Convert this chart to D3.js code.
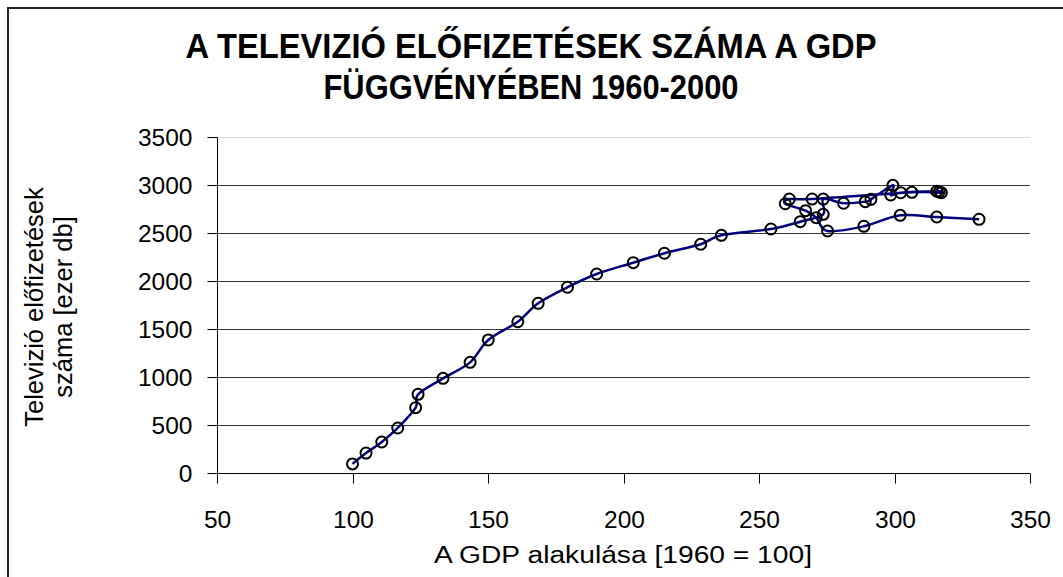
<!DOCTYPE html>
<html><head><meta charset="utf-8">
<script src="https://cdn.jsdelivr.net/npm/d3@7"></script>
<style>body{margin:0;background:#fff} svg{display:block} text{font-family:"Liberation Sans",Arial,sans-serif;fill:#000}</style>
</head><body><svg id="c" width="1063" height="577"></svg>
<script>
// GDP index (1960 = 100), 1960..2000
const gdp = [100, 105, 110.8, 116.7, 123.3, 124.2, 133.4, 143.4, 150.1, 161, 168.5, 179.3, 190.1, 203.6, 215.1, 228.5, 236.1,
  254.4, 265.2, 273.7, 273.7, 281.2, 289.2, 291.3, 299.4, 298.6, 302.3, 315.6, 316.5, 317.3, 306.4,
  269.6, 261.2, 259.7, 267.2, 271.1, 275.3, 288.7, 302.1, 315.6, 331.2];
// TV subscriptions [thousand], 1960..2000
const tv = [100, 213, 328, 474, 686, 825, 991, 1158, 1391, 1581, 1773, 1940, 2078, 2196, 2294, 2388, 2481,
  2547, 2623, 2700, 2859, 2815, 2832, 2856, 3002, 2901, 2925, 2940, 2933, 2925, 2929,
  2859, 2859, 2810, 2738, 2665, 2526, 2575, 2689, 2672, 2648];
const xTicks = [50, 100, 150, 200, 250, 300, 350];
const yTicks = [0, 500, 1000, 1500, 2000, 2500, 3000, 3500];
const titleLines = ["A TELEVIZIÓ ELŐFIZETÉSEK SZÁMA A GDP", "FÜGGVÉNYÉBEN 1960-2000"];
const xTitle = "A GDP alakulása [1960 = 100]";
const yTitleLines = ["Televizió előfizetések", "száma [ezer db]"];

const svg = d3.select("#c");
const x = d3.scaleLinear().domain([50, 350]).range([217, 1030]);
const y = d3.scaleLinear().domain([0, 3500]).range([473.5, 137.5]);

// outer chart border
svg.append("rect").attr("x", 8).attr("y", 8).attr("width", 1100).attr("height", 620)
  .attr("fill", "none").attr("stroke", "#222").attr("stroke-width", 2);

// gridlines
const grid = svg.append("g").attr("transform", "translate(217,0)")
  .call(d3.axisLeft(y).tickValues(yTicks.filter(t => t > 0)).tickSize(-(1030 - 217)).tickFormat(""));
grid.select(".domain").remove();
grid.selectAll(".tick").attr("transform", d => `translate(0,${Math.floor(y(d)) + 0.5})`);
grid.selectAll(".tick line").attr("stroke", d => d === 3500 ? "#dcdcdc" : "#333").attr("stroke-width", 1);

// y axis
const yAx = svg.append("g").attr("transform", "translate(217.5,0)")
  .call(d3.axisLeft(y).tickValues(yTicks).tickSize(10).tickPadding(15).tickFormat(d3.format("d")));
yAx.select(".domain").attr("stroke", "#000").attr("d", `M0,${y(3500)}V483`);
yAx.selectAll(".tick").attr("transform", d => `translate(0,${Math.floor(y(d)) + 0.5})`);
yAx.selectAll(".tick line").attr("stroke", "#000");
yAx.selectAll(".tick text").attr("font-size", 24.5).attr("font-family", '"Liberation Sans",Arial,sans-serif').attr("dy", "0.35em");

// x axis
const xAx = svg.append("g").attr("transform", "translate(0,473.5)")
  .call(d3.axisBottom(x).tickValues(xTicks).tickSize(10).tickPadding(27).tickFormat(d3.format("d")));
xAx.select(".domain").attr("stroke", "#000").attr("d", `M${x(50)},0H${x(350)}`);
xAx.selectAll(".tick").attr("transform", d => `translate(${Math.round(x(d)) + 0.5},0)`);
xAx.selectAll(".tick line").attr("stroke", "#000");
xAx.selectAll(".tick text").attr("font-size", 24.5).attr("font-family", '"Liberation Sans",Arial,sans-serif');

// series line
const pts = gdp.map((g, i) => [g, tv[i]]);
svg.append("path").datum(pts)
  .attr("fill", "none").attr("stroke", "#000080").attr("stroke-width", 2.5)
  .attr("d", d3.line().x(d => x(d[0])).y(d => y(d[1])).curve(d3.curveCardinal.tension(0)));

// markers
svg.append("g").selectAll("circle").data(pts).join("circle")
  .attr("cx", d => x(d[0])).attr("cy", d => y(d[1])).attr("r", 5.5)
  .attr("fill", "none").attr("stroke", "#000").attr("stroke-width", 2);

// title
svg.append("g").selectAll("text").data(titleLines).join("text")
  .attr("x", 531).attr("y", (d, i) => 58 + i * 41)
  .attr("text-anchor", "middle").attr("font-size", 35.5).attr("font-weight", "bold")
  .attr("textLength", (d, i) => i === 0 ? 691 : 415).attr("lengthAdjust", "spacingAndGlyphs")
  .text(d => d);

// x title
svg.append("text").attr("x", 623).attr("y", 563).attr("text-anchor", "middle")
  .attr("font-size", 23).attr("textLength", 378).attr("lengthAdjust", "spacingAndGlyphs").text(xTitle);

// y title
svg.append("g").selectAll("text").data(yTitleLines).join("text")
  .attr("transform", (d, i) => `translate(${43 + i * 29},307) rotate(-90)`)
  .attr("text-anchor", "middle").attr("font-size", 25.5)
  .text(d => d);
</script>
</body></html>
